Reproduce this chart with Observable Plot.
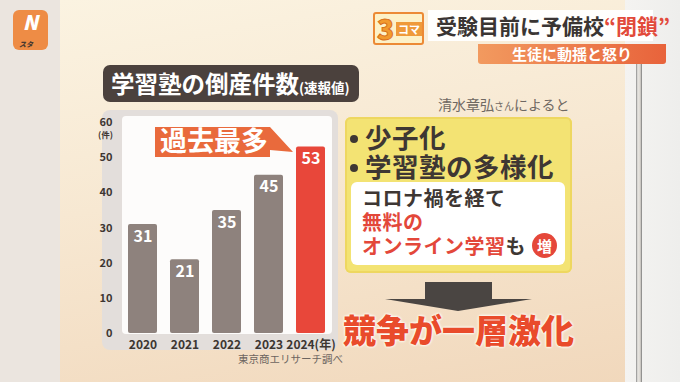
<!DOCTYPE html>
<html><head><meta charset="utf-8">
<script src="https://cdn.jsdelivr.net/npm/d3@7"></script>
<script src="https://cdn.jsdelivr.net/npm/@observablehq/plot@0.6"></script>
<style>
html,body{margin:0;padding:0;}
body{width:680px;height:382px;overflow:hidden;position:relative;font-family:"Noto Sans CJK JP","Noto Sans",sans-serif;background:#ebe5df;}
.abs{position:absolute;}
#board{left:60px;top:0;width:565px;height:382px;background:linear-gradient(170deg,#fbf3e1 0%,#f7e8d2 45%,#f1d8bc 100%);}
#wall{left:625px;top:0;width:55px;height:382px;background:linear-gradient(90deg,#f4f3f1,#eeeeec);}
#pole{left:636px;top:60px;width:6px;height:322px;background:linear-gradient(90deg,#888 0,#e8e6e2 30%,#dcd8d2 70%,#777 100%);}
#logo{left:13px;top:10px;width:35px;height:40px;border-radius:6px;background:#ee8c45;color:#fff;}
#badge{left:373px;top:12px;width:47px;height:29px;border:2px solid #ec8a35;border-radius:3px;background:#fdf1c8;}
#head{left:428px;top:10px;width:225px;height:31px;background:rgba(255,255,255,0.95);}
#sub{left:478px;top:44px;width:188px;height:20px;background:linear-gradient(90deg,#f29a5f,#e8633b);border-radius:0 0 3px 3px;color:#fff;font-size:15px;font-weight:700;line-height:20px;text-align:center;}
#title{left:103px;top:65px;width:256px;height:37px;border-radius:7px;background:#4b413d;color:#fff;font-weight:700;font-size:23.5px;line-height:37px;padding-left:8px;box-sizing:border-box;white-space:nowrap;}
#panel{left:102px;top:110px;width:236px;height:240px;border-radius:8px;background:#e3dedb;}
#inner{left:122px;top:116px;width:210px;height:218px;border-radius:4px;background:#fdfcfb;}
#plot{left:92px;top:108px;}
#unit{left:98px;top:129px;font-size:8.5px;line-height:10px;color:#3d3632;font-weight:700;}
#src{left:238px;top:351px;font-size:10.5px;color:#6d6560;white-space:nowrap;}
#callout{left:150px;top:120px;}
#by{left:438px;top:94px;font-size:14px;color:#6f6862;white-space:nowrap;}
#yellow{left:345px;top:117px;width:227px;height:156px;border-radius:6px;background:#f3e373;box-shadow:inset 0 0 0 2px #eed760;}
.big{font-size:26.5px;font-weight:700;color:#3e3733;white-space:nowrap;line-height:28px;letter-spacing:0.5px;}
.dot{display:inline-block;width:8px;height:8px;border-radius:50%;background:#3e3733;margin:0 7px 0 1px;vertical-align:middle;position:relative;top:-2px;}
#white{left:351px;top:182px;width:214px;height:83px;border-radius:6px;background:#fff;}
.mid{font-size:20px;font-weight:700;white-space:nowrap;line-height:22px;letter-spacing:0.5px;}
#zou{left:532px;top:233px;width:25px;height:25px;border-radius:50%;background:#e5473a;color:#fff;font-size:15px;font-weight:700;text-align:center;line-height:25px;}
#arrow{left:380px;top:280px;}
#kyoso{left:343px;top:310px;font-size:33px;font-weight:900;color:#e94b2b;white-space:nowrap;text-shadow:0 0 3px #fff,0 0 3px #fff,0 0 2px #fff8d0;line-height:38px;}
</style></head>
<body>
<div id="board" class="abs"></div>
<div id="wall" class="abs"></div>
<div id="pole" class="abs"></div>
<div id="logo" class="abs"><div style="position:absolute;left:0;width:35px;top:2px;font-size:20px;font-weight:900;font-style:italic;text-align:center;line-height:20px;">N</div><div style="position:absolute;left:6px;top:30px;font-size:7px;font-weight:900;font-style:italic;line-height:8px;color:#4a3a30;">スタ</div></div>
<div id="badge" class="abs"><span style="position:absolute;left:2px;top:-6px;font-size:28px;font-weight:900;color:#f29a2e;-webkit-text-stroke:1px #d8701a;">3</span><span style="position:absolute;left:21px;top:8px;font-size:11px;font-weight:700;color:#fff;background:#ef9a3a;padding:0 2px;line-height:14px;">コマ</span></div>
<div id="head" class="abs"><div style="position:absolute;left:8px;top:0;font-size:21px;font-weight:700;color:#3a3533;line-height:31px;white-space:nowrap;">受験目前に予備校<span style="color:#e24a3b;">“閉鎖”</span></div></div>
<div id="sub" class="abs">生徒に動揺と怒り</div>

<div id="title" class="abs">学習塾の倒産件数<span style="font-size:13.5px;">(速報値)</span></div>
<div id="panel" class="abs"></div>
<div id="inner" class="abs"></div>
<div id="plot" class="abs"></div>
<div id="unit" class="abs">(件)</div>
<div id="src" class="abs">東京商エリサーチ調べ</div>
<svg id="callout" class="abs" width="150" height="45">
  <path d="M5,7 H120 L143,32 L120,30 V37 H5 Z" fill="#e96a3c"/>
  <text x="10" y="31" font-size="27" font-weight="700" fill="#fff" style="font-family:'Noto Sans CJK JP';">過去最多</text>
</svg>

<div id="by" class="abs">清水章弘<span style="font-size:10px;">さん</span>によると</div>
<div id="yellow" class="abs">
  <div class="big" style="position:absolute;left:4px;top:6px;"><span class="dot"></span>少子化</div>
  <div class="big" style="position:absolute;left:4px;top:35px;"><span class="dot"></span>学習塾の多様化</div>
</div>
<div id="white" class="abs">
  <div class="mid" style="position:absolute;left:11px;top:5px;color:#3e3733;">コロナ禍を経て</div>
  <div class="mid" style="position:absolute;left:11px;top:29px;color:#e3473a;">無料の</div>
  <div class="mid" style="position:absolute;left:11px;top:53px;color:#e3473a;">オンライン学習<span style="color:#3e3733;">も</span></div>
</div>
<div id="zou" class="abs">増</div>
<svg id="arrow" class="abs" width="160" height="34">
  <path d="M45,2 H112 V19 H152 L78,31 L5,19 H45 Z" fill="#4a4542"/>
</svg>
<div id="kyoso" class="abs">競争が一層激化</div>

<script>
const years = ["2020", "2021", "2022", "2023", "2024"];
const counts = [31, 21, 35, 45, 53];
const yTicks = [0, 10, 20, 30, 40, 50, 60];
const highlightYear = "2024";
const yearSuffix = "(年)";

const data = years.map((y, i) => ({year: y, count: counts[i]}));
const color = d => d.year === highlightYear ? "#e8473a" : "#8e827d";

const chart = Plot.plot({
  width: 250,
  height: 250,
  marginLeft: 22,
  marginRight: 3,
  marginTop: 14,
  marginBottom: 25,
  style: {background: "transparent", fontFamily: "Noto Sans CJK JP, Noto Sans, sans-serif"},
  x: {domain: years, padding: 0.3, label: null},
  y: {domain: [0, 60], label: null},
  color: {type: "identity"},
  marks: [
    Plot.barY(data, {x: "year", y: "count", fill: color, rx: 2}),
    Plot.text(data, {x: "year", y: "count", text: d => String(d.count), dy: 12, fill: "#fff", fontSize: 16, fontWeight: 700}),
    Plot.axisY({ticks: yTicks, tickSize: 0, tickPadding: 2, fontSize: 11, fontWeight: 700, fill: "#3d3632", label: null}),
    Plot.axisX({tickSize: 0, tickPadding: 7, fontSize: 12, fontWeight: 700, fill: "#3d3632", label: null,
      tickFormat: d => d === highlightYear ? d + yearSuffix : d})
  ]
});
document.getElementById("plot").appendChild(chart);
</script>
</body></html>
